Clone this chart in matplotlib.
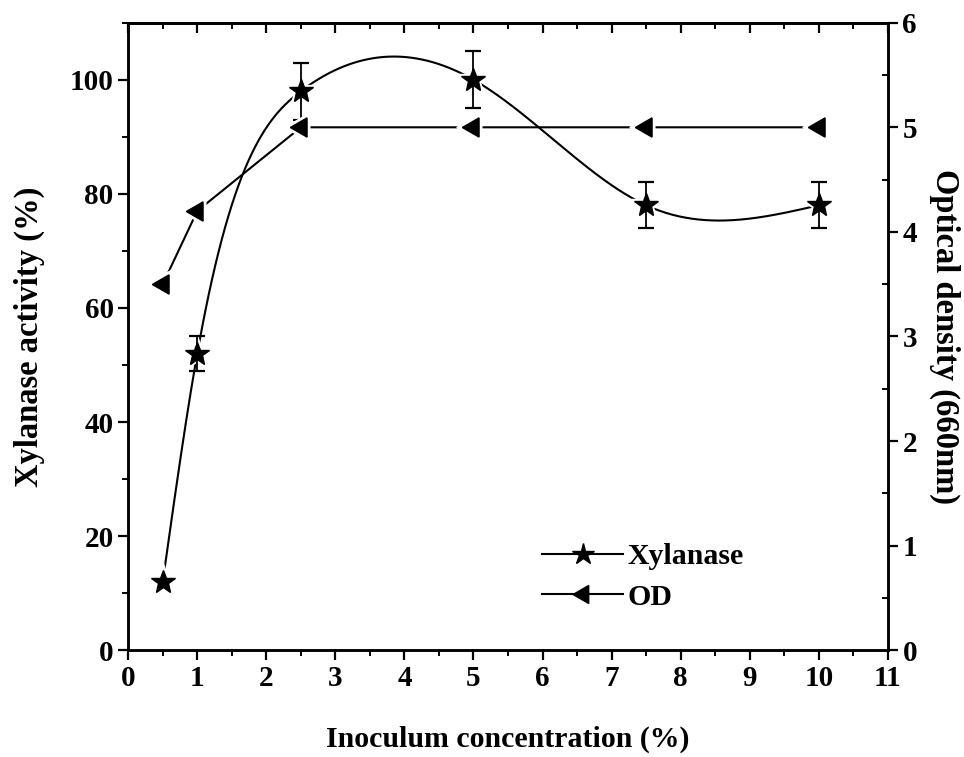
import numpy as np
import matplotlib.pyplot as plt

plt.rcParams['font.family'] = 'Liberation Serif'
plt.rcParams['font.weight'] = 'bold'

# data
conc = [0.5, 1, 2.5, 5, 7.5, 10]
xylanase = [12, 52, 98, 100, 78, 78]
xyl_err = [0, 3, 5, 5, 4, 4]
od = [3.5, 4.2, 5, 5, 5, 5]


def natural_spline(x, y, xs):
    x = np.asarray(x, float)
    y = np.asarray(y, float)
    n = len(x)
    h = np.diff(x)
    A = np.zeros((n, n))
    b = np.zeros(n)
    A[0, 0] = A[-1, -1] = 1
    for i in range(1, n - 1):
        A[i, i - 1] = h[i - 1]
        A[i, i] = 2 * (h[i - 1] + h[i])
        A[i, i + 1] = h[i]
        b[i] = 6 * ((y[i + 1] - y[i]) / h[i] - (y[i] - y[i - 1]) / h[i - 1])
    M = np.linalg.solve(A, b)
    idx = np.clip(np.searchsorted(x, xs) - 1, 0, n - 2)
    t0 = x[idx + 1] - xs
    t1 = xs - x[idx]
    hi = h[idx]
    return (M[idx] * t0 ** 3 / (6 * hi) + M[idx + 1] * t1 ** 3 / (6 * hi)
            + (y[idx] / hi - M[idx] * hi / 6) * t0
            + (y[idx + 1] / hi - M[idx + 1] * hi / 6) * t1)


xs = np.linspace(conc[0], conc[-1], 400)
ys = natural_spline(conc, xylanase, xs)

fig = plt.figure(figsize=(9.64, 7.57), dpi=100)
ax = fig.add_axes([0.133, 0.141, 0.788, 0.829])
ax2 = ax.twinx()

# xylanase curve with gaps around markers
ax.plot(xs, ys, color='k', lw=1.5, zorder=2)
ax.plot(conc, xylanase, ls='none', marker='*', ms=27, color='white', zorder=3)
ax.errorbar(conc[1:], xylanase[1:], yerr=xyl_err[1:], fmt='none', ecolor='k',
            elinewidth=1.3, capsize=5.5, capthick=1.6, zorder=4)
ax.plot(conc, xylanase, ls='none', marker='*', ms=18, color='k', zorder=5)

# OD line
ax2.plot(conc, od, color='k', lw=1.5, zorder=2)
ax2.plot(conc, od, ls='none', marker=(3, 0, 90), ms=24, color='white', zorder=3)
ax2.plot(conc, od, ls='none', marker=(3, 0, 90), ms=16, color='k', zorder=4)

ax.set_xlim(0, 11)
ax.set_ylim(0, 110)
ax2.set_ylim(0, 6)
ax.set_xticks(range(0, 12))
ax.set_xticks(np.arange(0.5, 11, 1), minor=True)
ax.set_yticks(range(0, 101, 20))
ax.set_yticks(range(10, 111, 20), minor=True)
ax2.set_yticks(range(0, 7))
ax2.set_yticks(np.arange(0.5, 6, 1), minor=True)

for a in (ax, ax2):
    for s in a.spines.values():
        s.set_linewidth(1.8)
ax.tick_params(which='major', length=7, width=1.6, labelsize=21, direction='out')
ax.tick_params(which='minor', length=4, width=1.4, direction='out')
ax2.tick_params(which='major', length=7, width=1.6, labelsize=21, direction='out')
ax2.tick_params(which='minor', length=4, width=1.4, direction='in')

# inward ticks on the top spine
top = ax.secondary_xaxis('top')
top.set_xticks(range(0, 12))
top.set_xticks(np.arange(0.5, 11, 1), minor=True)
top.tick_params(which='major', direction='in', length=7, width=1.6, labeltop=False)
top.tick_params(which='minor', direction='in', length=4, width=1.4)
top.spines['top'].set_linewidth(1.8)

ax.set_xlabel('Inoculum concentration (%)', fontsize=21.5, fontweight='bold', labelpad=24)
ax.set_ylabel('Xylanase activity (%)', fontsize=23.5, fontweight='bold', labelpad=18)
ax2.set_ylabel('Optical density (660nm)', fontsize=23.5, fontweight='bold',
               rotation=270, labelpad=31)

h1 = plt.Line2D([], [], color='k', lw=1.5, marker='*', ms=16)
h2 = plt.Line2D([], [], color='k', lw=1.5, marker=(3, 0, 90), ms=15)
ax2.legend([h1, h2], ['Xylanase', 'OD'], loc='lower left', bbox_to_anchor=(0.51, 0.02),
           frameon=False, fontsize=21.5, handlelength=2.7, handletextpad=0.15,
           labelspacing=0.45)

fig.savefig('out.png', dpi=100)
